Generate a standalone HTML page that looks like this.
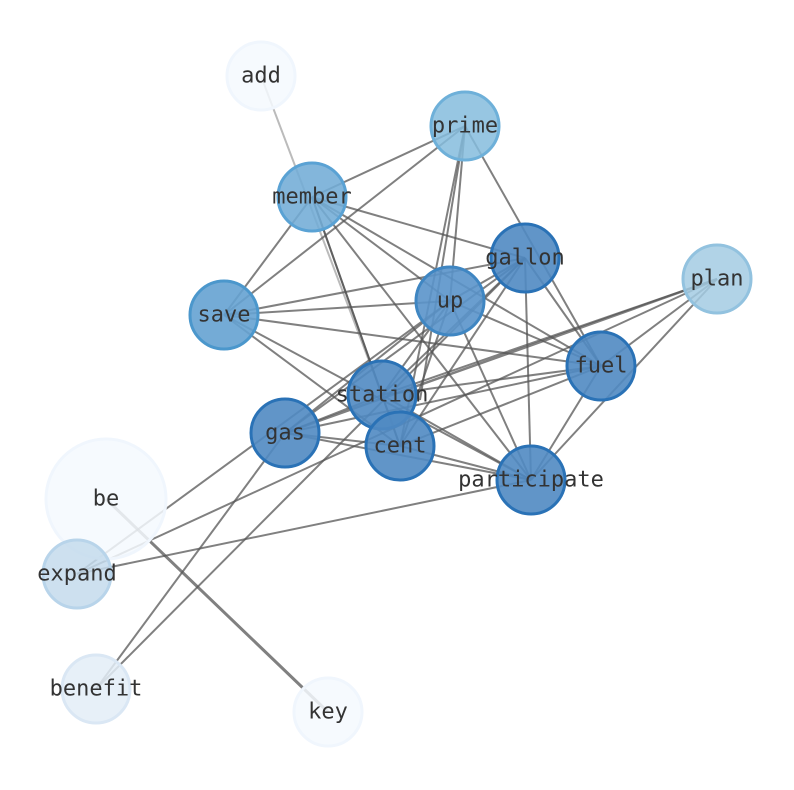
<!DOCTYPE html>
<html><head><style>html,body{margin:0;padding:0;background:#fff}svg{display:block}</style></head><body>
<svg width="794" height="790" viewBox="0 0 794 790" xmlns="http://www.w3.org/2000/svg">
<g stroke="#555" stroke-opacity="0.75" stroke-width="2">
<line x1="261" y1="76" x2="382" y2="395" stroke-opacity="0.4"/>
<line x1="465" y1="126" x2="312" y2="197"/>
<line x1="465" y1="126" x2="224" y2="315"/>
<line x1="465" y1="126" x2="450" y2="301"/>
<line x1="465" y1="126" x2="400" y2="446"/>
<line x1="465" y1="126" x2="420" y2="400"/>
<line x1="465" y1="126" x2="601" y2="366"/>
<line x1="312" y1="197" x2="525" y2="258"/>
<line x1="312" y1="197" x2="450" y2="301"/>
<line x1="312" y1="197" x2="601" y2="366"/>
<line x1="312" y1="197" x2="531" y2="480"/>
<line x1="312" y1="197" x2="382" y2="395"/>
<line x1="312" y1="197" x2="400" y2="446"/>
<line x1="312" y1="197" x2="224" y2="315"/>
<line x1="224" y1="315" x2="525" y2="258"/>
<line x1="224" y1="315" x2="450" y2="301"/>
<line x1="224" y1="315" x2="601" y2="366"/>
<line x1="224" y1="315" x2="531" y2="480"/>
<line x1="224" y1="315" x2="400" y2="446"/>
<line x1="525" y1="258" x2="450" y2="301"/>
<line x1="525" y1="258" x2="382" y2="395"/>
<line x1="525" y1="258" x2="285" y2="433"/>
<line x1="525" y1="258" x2="400" y2="446"/>
<line x1="525" y1="258" x2="601" y2="366"/>
<line x1="525" y1="258" x2="531" y2="480"/>
<line x1="525" y1="258" x2="96" y2="689"/>
<line x1="450" y1="301" x2="382" y2="395"/>
<line x1="450" y1="301" x2="285" y2="433"/>
<line x1="450" y1="301" x2="400" y2="446"/>
<line x1="450" y1="301" x2="531" y2="480"/>
<line x1="450" y1="301" x2="601" y2="366"/>
<line x1="450" y1="301" x2="77" y2="574"/>
<line x1="717" y1="279" x2="285" y2="433" stroke-width="2.5"/>
<line x1="717" y1="279" x2="382" y2="395"/>
<line x1="717" y1="279" x2="601" y2="366"/>
<line x1="717" y1="279" x2="531" y2="480"/>
<line x1="717" y1="279" x2="77" y2="574"/>
<line x1="601" y1="366" x2="382" y2="395"/>
<line x1="601" y1="366" x2="285" y2="433"/>
<line x1="601" y1="366" x2="400" y2="446"/>
<line x1="601" y1="366" x2="531" y2="480"/>
<line x1="382" y1="395" x2="531" y2="480"/>
<line x1="382" y1="395" x2="400" y2="446"/>
<line x1="382" y1="395" x2="285" y2="433"/>
<line x1="285" y1="433" x2="531" y2="480"/>
<line x1="285" y1="433" x2="400" y2="446"/>
<line x1="400" y1="446" x2="531" y2="480"/>
<line x1="77" y1="574" x2="531" y2="480"/>
<line x1="96" y1="689" x2="285" y2="433"/>
<line x1="106" y1="499" x2="328" y2="712" stroke-width="3"/>
</g>
<g stroke-width="3">
<circle cx="261" cy="76" r="34" fill="#f5f9fe" stroke="#f0f6fd" fill-opacity="0.85"/>
<circle cx="106" cy="499" r="60" fill="#f5f9fe" stroke="#f0f6fd" fill-opacity="0.85"/>
<circle cx="328" cy="712" r="34" fill="#f5f9fe" stroke="#f0f6fd" fill-opacity="0.85"/>
<circle cx="96" cy="689" r="34" fill="#e3edf7" stroke="#dae7f4" fill-opacity="0.85"/>
<circle cx="77" cy="574" r="34" fill="#c4dbec" stroke="#b8d4ea" fill-opacity="0.85"/>
<circle cx="717" cy="279" r="34" fill="#a3cbe3" stroke="#92c2df" fill-opacity="0.85"/>
<circle cx="465" cy="126" r="34" fill="#85bcdd" stroke="#6eb0d9" fill-opacity="0.85"/>
<circle cx="312" cy="197" r="34" fill="#72acd6" stroke="#5aa2d4" fill-opacity="0.88"/>
<circle cx="224" cy="315" r="34" fill="#65a2d1" stroke="#4b97cc" fill-opacity="0.9"/>
<circle cx="450" cy="301" r="34" fill="#5a94ca" stroke="#3f86c2" fill-opacity="0.9"/>
<circle cx="525" cy="258" r="34" fill="#5089c2" stroke="#2a72b6" fill-opacity="0.9"/>
<circle cx="601" cy="366" r="34" fill="#5089c2" stroke="#2a72b6" fill-opacity="0.9"/>
<circle cx="382" cy="395" r="34" fill="#5089c2" stroke="#2a72b6" fill-opacity="0.9"/>
<circle cx="285" cy="433" r="34" fill="#5089c2" stroke="#2a72b6" fill-opacity="0.9"/>
<circle cx="400" cy="446" r="34" fill="#5089c2" stroke="#2a72b6" fill-opacity="0.9"/>
<circle cx="531" cy="480" r="34" fill="#5089c2" stroke="#2a72b6" fill-opacity="0.9"/>
</g>
<g font-family="'DejaVu Sans Mono','Liberation Mono',monospace" font-size="22" fill="#333" text-anchor="middle" dominant-baseline="central">
<text x="261" y="76">add</text>
<text x="465" y="126">prime</text>
<text x="312" y="197">member</text>
<text x="525" y="258">gallon</text>
<text x="717" y="279">plan</text>
<text x="450" y="301">up</text>
<text x="224" y="315">save</text>
<text x="601" y="366">fuel</text>
<text x="382" y="395">station</text>
<text x="285" y="433">gas</text>
<text x="400" y="446">cent</text>
<text x="531" y="480">participate</text>
<text x="106" y="499">be</text>
<text x="77" y="574">expand</text>
<text x="96" y="689">benefit</text>
<text x="328" y="712">key</text>
</g>
</svg>
</body></html>
